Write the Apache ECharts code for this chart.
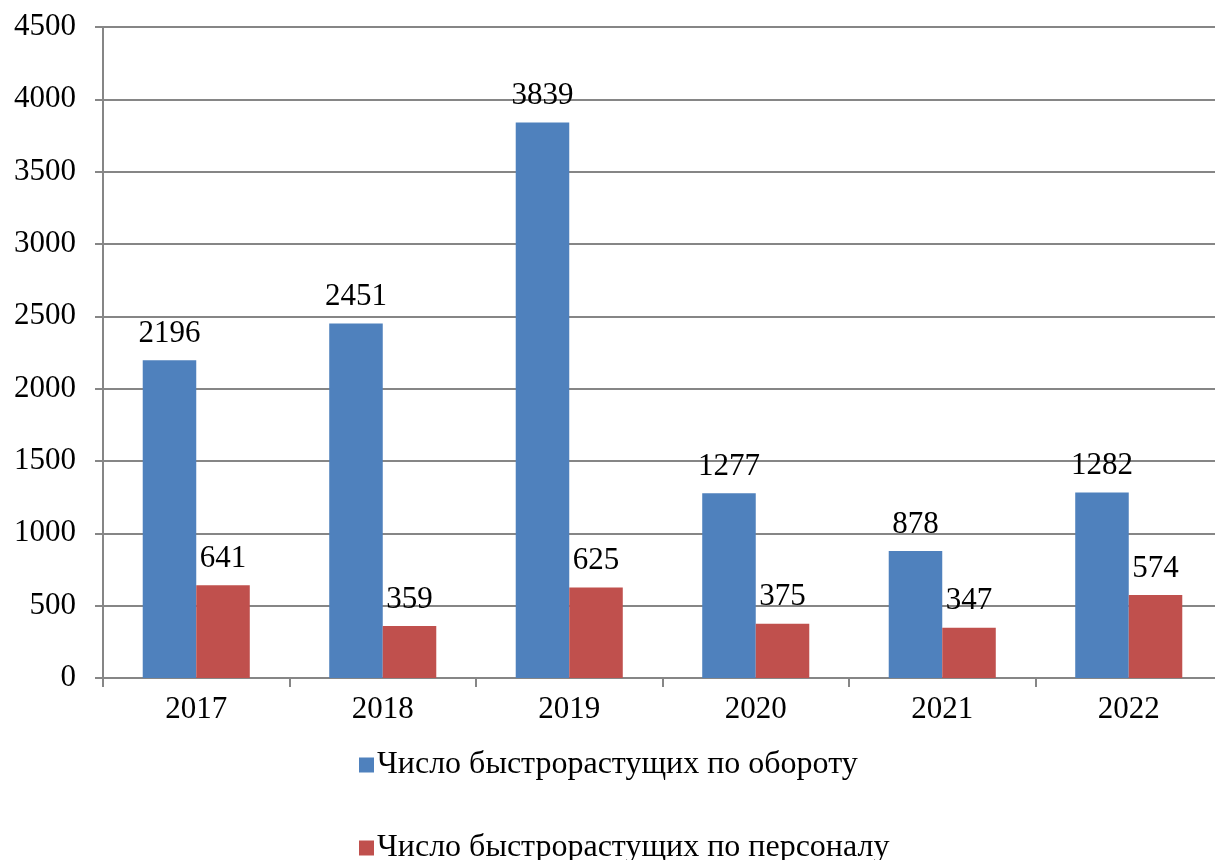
<!DOCTYPE html>
<html><head><meta charset="utf-8">
<script src="https://cdn.jsdelivr.net/npm/echarts@6/dist/echarts.min.js"></script>
<style>html,body{margin:0;padding:0;background:#fff}#c{width:1215px;height:860px}</style>
</head><body><div id="c"></div>
<script>
const categories = ['2017','2018','2019','2020','2021','2022'];
const seriesTurnover = [2196, 2451, 3839, 1277, 878, 1282];
const seriesStaff = [641, 359, 625, 375, 347, 574];
const seriesNames = ['Число быстрорастущих по обороту', 'Число быстрорастущих по персоналу'];

const font = 'Liberation Serif, Times New Roman, serif';
const fs = 31;
const axisColor = '#868686';
const legendCommon = {
  orient: 'horizontal', left: 354,
  itemWidth: 15, itemHeight: 15, icon: 'rect', itemGap: 0,
  textStyle: {fontSize: 32, fontFamily: font, color: '#000', padding: [0,0,0,-2]}
};
const chart = echarts.init(document.getElementById('c'));
chart.setOption({
  animation: false,
  textStyle: {fontFamily: font},
  grid: {left: 103, width: 1119, top: 27, height: 651, containLabel: false, outerBoundsMode: 'none'},
  xAxis: {
    type: 'category', data: categories,
    axisLine: {lineStyle: {color: axisColor, width: 2}},
    axisTick: {show: true, length: 9, lineStyle: {color: axisColor, width: 2}},
    axisLabel: {color: '#000', fontSize: fs, fontFamily: font, margin: 16}
  },
  yAxis: {
    type: 'value', min: 0, max: 4500, interval: 500,
    axisLine: {show: true, lineStyle: {color: axisColor, width: 2}},
    axisTick: {show: true, length: 8, lineStyle: {color: axisColor, width: 2}},
    splitLine: {lineStyle: {color: axisColor, width: 2}},
    axisLabel: {color: '#000', fontSize: fs, fontFamily: font, margin: 27, formatter: v => String(v)}
  },
  legend: [
    Object.assign({}, legendCommon, {top: 744, data: [seriesNames[0]]}),
    Object.assign({}, legendCommon, {top: 827, data: [seriesNames[1]]})
  ],
  series: [
    {name: seriesNames[0], type: 'bar', data: seriesTurnover, barGap: '0%', barCategoryGap: '42.6%',
     itemStyle: {color: '#4F81BD'},
     label: {show: true, position: 'top', distance: 11, fontSize: fs, fontFamily: font, color: '#000'}},
    {name: seriesNames[1], type: 'bar', data: seriesStaff, barGap: '0%', barCategoryGap: '42.6%',
     itemStyle: {color: '#C0504D'},
     label: {show: true, position: 'top', distance: 11, fontSize: fs, fontFamily: font, color: '#000'}}
  ]
});
</script></body></html>
